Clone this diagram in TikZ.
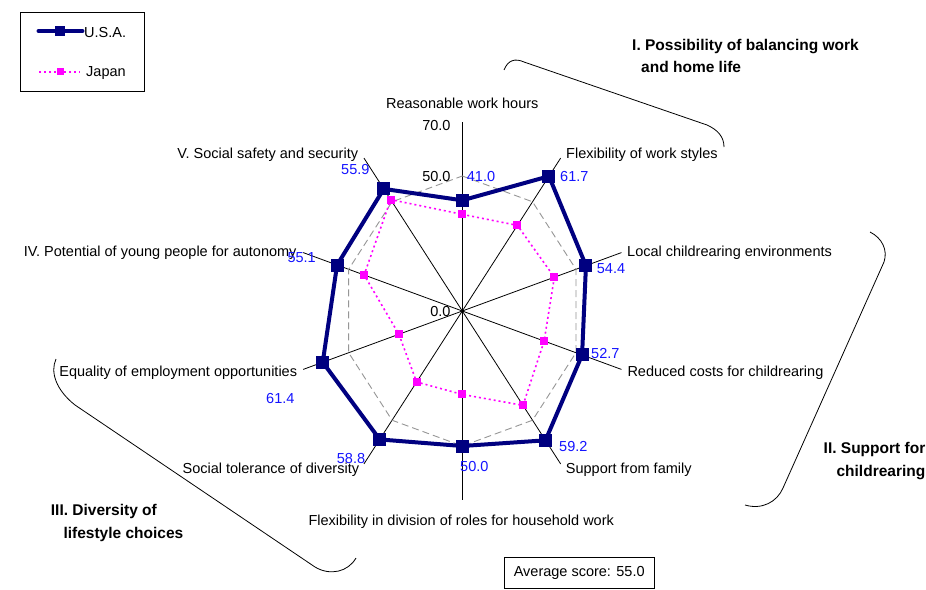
\documentclass[tikz,border=0pt]{standalone}
\usepackage{fontspec}
\setmainfont{Liberation Sans}
\definecolor{navyc}{RGB}{0,0,128}
\definecolor{magc}{RGB}{255,0,255}
\definecolor{valblue}{RGB}{20,20,255}
\definecolor{gridgray}{RGB}{150,150,150}
\begin{document}
\begin{tikzpicture}[x=1pt,y=-1pt,
  lbl/.style={font=\fontsize{14.5}{17}\selectfont, inner sep=0pt},
  val/.style={lbl, text=valblue},
  cat/.style={font=\fontsize{15.5}{19}\selectfont\bfseries, inner sep=0pt},
  spoke/.style={black, line width=0.8pt},
  grid50/.style={gridgray, line width=0.9pt, dash pattern=on 7pt off 4pt},
  usa/.style={navyc, line width=4pt, line join=miter},
  jpn/.style={magc, line width=1.6pt, dash pattern=on 2pt off 3pt},
  usamark/.style={rectangle, fill=navyc, minimum size=13pt, inner sep=0pt, draw=none},
  jpnmark/.style={rectangle, fill=magc, minimum size=8pt, inner sep=0pt, draw=none},
  bracket/.style={black, line width=0.8pt},
  boxed/.style={draw=black, line width=0.8pt}]
\useasboundingbox (0,0) rectangle (926,589);
\fill[white] (0,0) rectangle (926,589);

% centre and spokes
\coordinate (O) at (462.3,311);
\foreach \k in {0,...,9} {
  \coordinate (s\k) at ({462.3+70*2.39*sin(36*\k)},{311-70*2.7*cos(36*\k)});
  \coordinate (g\k) at ({462.3+50*2.39*sin(36*\k)},{311-50*2.7*cos(36*\k)});
}
\foreach \k in {0,...,9} { \draw[spoke] (O) -- (s\k); }
\draw[grid50] (g0) -- (g1) -- (g2) -- (g3) -- (g4) -- (g5) -- (g6) -- (g7) -- (g8) -- (g9) -- cycle;

% data
\foreach \k/\v in {0/41.0,1/61.7,2/54.4,3/52.7,4/59.2,5/50.0,6/58.8,7/61.4,8/55.1,9/55.9} {
  \coordinate (u\k) at ({462.3+\v*2.39*sin(36*\k)},{311-\v*2.7*cos(36*\k)});
}
\foreach \k/\v in {0/35.8,1/39.2,2/40.5,3/36.0,4/43.2,5/30.9,6/32.5,7/27.9,8/43.2,9/51.0} {
  \coordinate (j\k) at ({462.3+\v*2.39*sin(36*\k)},{311-\v*2.7*cos(36*\k)});
}
\draw[usa] (u0) -- (u1) -- (u2) -- (u3) -- (u4) -- (u5) -- (u6) -- (u7) -- (u8) -- (u9) -- cycle;
\foreach \k in {0,...,9} { \node[usamark] (mu\k) at (u\k) {}; }
\draw[jpn] (j0) -- (j1) -- (j2) -- (j3) -- (j4) -- (j5) -- (j6) -- (j7) -- (j8) -- (j9) -- cycle;
\foreach \k in {0,...,9} { \node[jpnmark] (mj\k) at (j\k) {}; }

% axis labels
\node[lbl, anchor=base east] (a70) at (450.7,130.7) {70.0};
\node[lbl, anchor=base east] (a50) at (450.7,181.7) {50.0};
\node[lbl, anchor=base east] (a0) at (450.7,316.7) {0.0};

% category labels
\node[lbl, anchor=base] (c0) at (462.3,108) {Reasonable work hours};
\node[lbl, anchor=base west] (c1) at (566,158.3) {Flexibility of work styles};
\node[lbl, anchor=base west] (c2) at (627,256.7) {Local childrearing environments};
\node[lbl, anchor=base west] (c3) at (627.3,376) {Reduced costs for childrearing};
\node[lbl, anchor=base west] (c4) at (565.7,473.3) {Support from family};
\node[lbl, anchor=base west] (c5) at (308.3,525) {Flexibility in division of roles for household work};
\node[lbl, anchor=base east] (c6) at (359.3,473.3) {Social tolerance of diversity};
\node[lbl, anchor=base east] (c7) at (297.3,376.7) {Equality of employment opportunities};
\node[lbl, anchor=base east] (c8) at (296.7,256.7) {IV. Potential of young people for autonomy};
\node[lbl, anchor=base east] (c9) at (358.3,158.3) {V. Social safety and security};

% value labels
\node[val, anchor=base west] (v0) at (466.7,181.7) {41.0};
\node[val, anchor=base west] (v1) at (560,181.7) {61.7};
\node[val, anchor=base west] (v2) at (596.7,273.3) {54.4};
\node[val, anchor=base west] (v3) at (591,358.3) {52.7};
\node[val, anchor=base west] (v4) at (559,451.7) {59.2};
\node[val, anchor=base west] (v5) at (460,471.7) {50.0};
\node[val, anchor=base west] (v6) at (336.7,463.3) {58.8};
\node[val, anchor=base west] (v7) at (266,403.3) {61.4};
\node[val, anchor=base west] (v8) at (287.3,262.7) {55.1};
\node[val, anchor=base west] (v9) at (341,174.3) {55.9};

% group labels
\node[cat, anchor=base west] (gI1) at (632,50) {I. Possibility of balancing work};
\node[cat, anchor=base west] (gI2) at (641,72.7) {and home life};
\node[cat, anchor=base east] (gII1) at (925.5,453.3) {II. Support for};
\node[cat, anchor=base east] (gII2) at (925.5,476.7) {childrearing};
\node[cat, anchor=base west] (gIII1) at (50.7,515) {III. Diversity of};
\node[cat, anchor=base west] (gIII2) at (63.3,538.3) {lifestyle choices};

% brackets
\draw[bracket] (504,70) .. controls (508,60) and (515,58) .. (524,62) -- (707,125) .. controls (718,130) and (724,137) .. (724,147);
\draw[bracket] (870,232) .. controls (882,238) and (888,250) .. (884,262) -- (783,488) .. controls (777,502) and (762,510) .. (745,505);
\draw[bracket] (56,359) .. controls (50,372) and (56,390) .. (75,405) -- (315,567) .. controls (330,576) and (348,572) .. (356,558);

% legend
\draw[boxed] (20,12) rectangle (144.7,91.3);
\coordinate (lu1) at (38.3,31);
\coordinate (lu2) at (82.7,31);
\draw[usa, line width=3.5pt, line cap=round] (lu1) -- (lu2);
\node[usamark, minimum size=10pt] (lum) at (60,31) {};
\node[lbl, anchor=base west] (lut) at (84,37.3) {U.S.A.};
\coordinate (lj1) at (39.3,71.7);
\coordinate (lj2) at (80,71.7);
\draw[jpn] (lj1) -- (lj2);
\node[jpnmark, minimum size=7pt] (ljm) at (60,71.7) {};
\node[lbl, anchor=base west] (ljt) at (86,76.5) {Japan};

% average score box
\node[lbl, boxed, minimum width=150pt, minimum height=31pt] (avg) at (579.2,572.5) {Average score: 55.0};
\end{tikzpicture}
\end{document}
